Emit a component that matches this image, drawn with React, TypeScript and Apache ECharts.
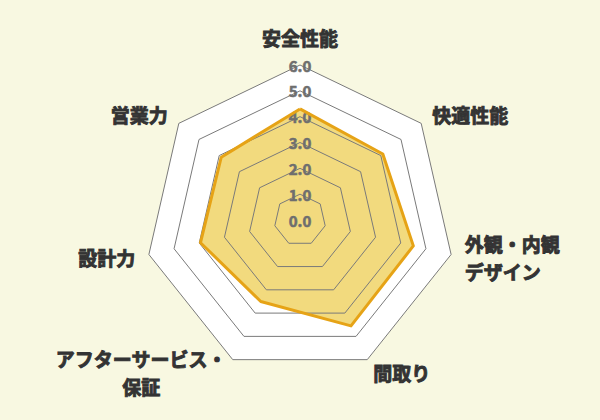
import React, { useEffect, useRef } from 'react'
import * as echarts from 'echarts'

// 軸の名前（時計回り、上から）
const categories: string[] = [
  '安全性能',
  '快適性能',
  '外観・内観\nデザイン',
  '間取り',
  'アフターサービス・\n保証',
  '設計力',
  '営業力'
]
const scores: number[] = [4.3, 4.1, 4.5, 4.55, 3.5, 3.95, 3.9]
const maxScore = 6
const tickCount = 6

// echarts のレーダーは反時計回りなので並べ替える
const order = categories.map((_, i) => (i === 0 ? 0 : categories.length - i))

const nameFont = {
  color: '#333333',
  fontSize: 19,
  fontWeight: 'bold',
  fontFamily: 'Noto Sans CJK JP',
  lineHeight: 28,
  textBorderColor: '#333333',
  textBorderWidth: 0.9
}

const App = () => {
  const chartRef: any = useRef()

  useEffect(() => {
    const chart = echarts.init(chartRef.current, null, { renderer: 'svg' })

    const indicatorsBack = order.map((i) => ({ name: categories[i], max: maxScore, min: 0 }))
    const indicatorsFront = order.map((i, k) => {
      const item: any = { name: categories[i], max: maxScore, min: 0 }
      if (k !== 0) item.axisLabel = { show: false }
      return item
    })
    const values = order.map((i) => scores[i])

    const common = {
      center: ['50%', 220],
      radius: 155,
      startAngle: 90,
      shape: 'polygon',
      splitNumber: tickCount
    }

    const options: any = {
      animation: false,
      backgroundColor: '#f8f8e1',
      radar: [
        {
          ...common,
          indicator: indicatorsBack,
          z: 0,
          axisName: { show: false },
          axisLine: { show: false },
          splitLine: { show: false },
          splitArea: { show: true, areaStyle: { color: ['#ffffff'] } }
        },
        {
          ...common,
          indicator: indicatorsFront,
          z: 3,
          nameGap: 14,
          axisName: {
            ...nameFont,
            formatter: (name: string) =>
              name.startsWith('アフター')
                ? name.split('\n').map((s) => '{c|' + s + '}').join('\n')
                : name,
            rich: {
              c: { ...nameFont, align: 'center' }
            }
          },
          axisLine: { show: false },
          axisTick: { show: false },
          splitArea: { show: false },
          splitLine: { show: true, lineStyle: { color: '#7a7a7a', width: 1 } },
          axisLabel: {
            show: true,
            align: 'center',
            verticalAlign: 'middle',
            margin: 0,
            padding: [0, 0, 6, 0],
            color: '#6e6e6e',
            fontSize: 15,
            fontWeight: 'bold',
            fontFamily: 'Noto Sans CJK JP',
            textBorderColor: '#6e6e6e',
            textBorderWidth: 0.6,
            formatter: (v: number) => v.toFixed(1)
          }
        }
      ],
      series: [
        {
          type: 'radar',
          radarIndex: 0,
          z: 2,
          symbol: 'none',
          lineStyle: { width: 0, opacity: 0 },
          areaStyle: { color: '#f2da7e', opacity: 1 },
          data: [{ value: values }]
        },
        {
          type: 'radar',
          radarIndex: 0,
          z: 4,
          symbol: 'none',
          lineStyle: { color: '#e6a316', width: 3 },
          data: [{ value: values }]
        }
      ]
    }

    chart.setOption(options)

    return () => {
      chart.dispose()
    }
  }, [])

  return (
    <div
      ref={chartRef}
      style={{ position: 'fixed', left: 0, top: 0, width: 600, height: 420 }}
    ></div>
  )
}

export default App
